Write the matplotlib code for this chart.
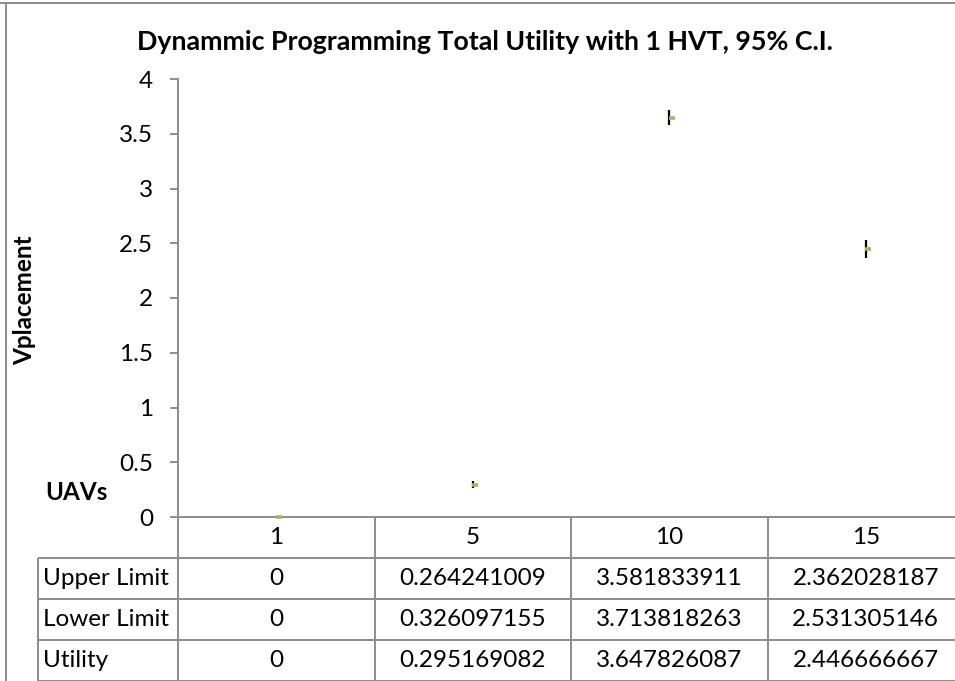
import numpy as np
import matplotlib
matplotlib.use("Agg")
import matplotlib.pyplot as plt
from matplotlib.lines import Line2D
from matplotlib.transforms import ScaledTranslation

plt.rcParams['font.family'] = ['Lato', 'DejaVu Sans']

categories = ['1', '5', '10', '15']
upper_limit = [0, 0.264241009, 3.581833911, 2.362028187]
lower_limit = [0, 0.326097155, 3.713818263, 2.531305146]
utility = [0, 0.295169082, 3.647826087, 2.446666667]
row_names = ['Upper Limit', 'Lower Limit', 'Utility']
y_ticks = [0, 0.5, 1, 1.5, 2, 2.5, 3, 3.5, 4]

W, H = 955, 681
fig = plt.figure(figsize=(W / 100, H / 100), dpi=100)
GRAY = '#8c8c8c'
GREEN = '#9bbb59'
FS = 17.5


def fx(px):
    return px / W


def fy(py):
    return 1 - py / H


# pixel geometry of plot area
ax_left, ax_top, ax_bottom = 178, 79, 517
cat_w = 196.5
ax = fig.add_axes([fx(ax_left), fy(ax_bottom), 4 * cat_w / W, (ax_bottom - ax_top) / H])
x = np.arange(len(categories))
ax.set_xlim(-0.5, len(categories) - 0.5)
ax.set_ylim(0, 4)

ut = np.array(utility)
lo = np.minimum(upper_limit, lower_limit)
hi = np.maximum(upper_limit, lower_limit)
ax.vlines(x, lo, hi, color='black', linewidth=1.6, zorder=3)
shift = ax.transData + ScaledTranslation(2.5 / 100, 0, fig.dpi_scale_trans)
ax.plot(x, ut, linestyle='none', marker='_', markersize=4.5, markeredgewidth=2.6,
        color=GREEN, transform=shift, zorder=4, clip_on=False)

for s in ['top', 'right']:
    ax.spines[s].set_visible(False)
for s in ['left', 'bottom']:
    ax.spines[s].set_color(GRAY)
    ax.spines[s].set_linewidth(1.4)
ax.set_xticks([])
ax.set_yticks(y_ticks)
ax.set_yticklabels([f'{t:g}' for t in y_ticks])
ax.tick_params(axis='y', direction='out', length=6, width=1.4, color=GRAY,
               labelsize=FS, pad=12)

# title and axis names
fig.text(fx(485), fy(42), 'Dynammic Programming Total Utility with 1 HVT, 95% C.I.',
         ha='center', va='center', fontsize=19.3, fontweight='bold')
fig.text(fx(25), fy(300), 'Vplacement', rotation=90, ha='center', va='center',
         fontsize=17.5, fontweight='bold')
fig.text(fx(45), fy(493), 'UAVs', ha='left', va='center', fontsize=17.5, fontweight='bold')

# data table under the axis
tab_left = 38
lab_w = ax_left - tab_left
row_h = 41
tab = fig.add_axes([fx(tab_left), 0, (ax_left - tab_left + 4 * cat_w) / W, 4 * row_h / H])
x0 = -0.5 - lab_w / cat_w
tab.set_xlim(x0, len(categories) - 0.5)
tab.set_ylim(4, 0)
tab.axis('off')
lk = dict(color=GRAY, linewidth=1.4, clip_on=False, solid_capstyle='butt')
tab.plot([-0.5, -0.5], [0, 4], **lk)
tab.plot([x0, x0], [1, 4], **lk)
for i in range(1, len(categories) + 1):
    tab.plot([i - 0.5, i - 0.5], [0, 4], **lk)
for r in range(1, 5):
    tab.plot([x0, len(categories) - 0.5], [r, r], **lk)


def fmt(v):
    return f'{v:.9f}'.rstrip('0').rstrip('.')


for i, c in enumerate(categories):
    tab.text(i, 0.5, c, ha='center', va='center', fontsize=FS)
for r, (name, vals) in enumerate(zip(row_names, [upper_limit, lower_limit, utility])):
    tab.text(x0 + 0.025, r + 1.5, name, ha='left', va='center', fontsize=FS)
    for i, v in enumerate(vals):
        tab.text(i, r + 1.5, fmt(v), ha='center', va='center', fontsize=FS)

# page frame around the chart
fig.add_artist(Line2D([0, 1], [fy(3), fy(3)], color=GRAY, linewidth=1.4))
fig.add_artist(Line2D([fx(6), fx(6)], [fy(3), 0], color=GRAY, linewidth=1.4))

fig.savefig('out.png', dpi=100)
